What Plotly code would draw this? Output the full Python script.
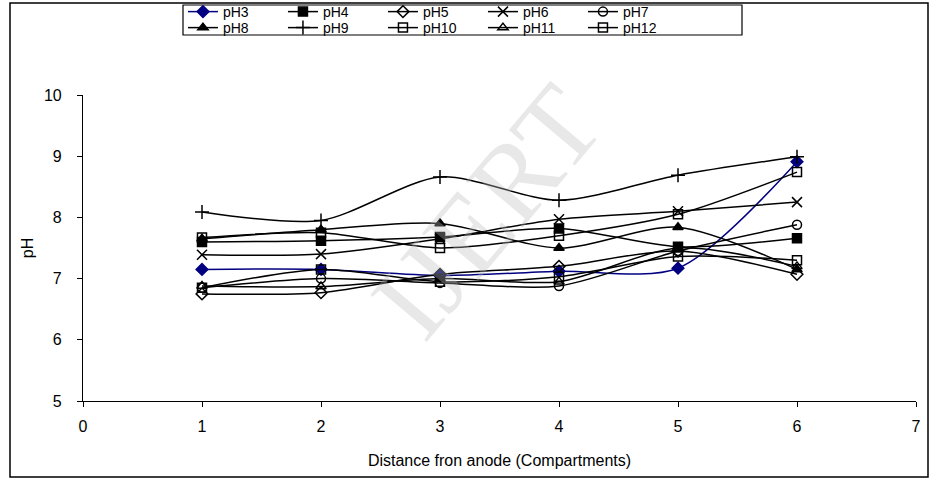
import plotly.graph_objects as go

x = [1, 2, 3, 4, 5, 6]
series_names = ["pH3", "pH4", "pH5", "pH6", "pH7", "pH8", "pH9", "pH10", "pH11", "pH12"]
pH3 = [7.15, 7.15, 7.05, 7.12, 7.17, 8.91]
pH4 = [7.60, 7.62, 7.68, 7.82, 7.52, 7.66]
pH5 = [6.75, 6.77, 7.07, 7.20, 7.45, 7.07]
pH6 = [7.39, 7.40, 7.65, 7.97, 8.10, 8.25]
pH7 = [6.85, 7.00, 6.93, 6.88, 7.45, 7.88]
pH8 = [7.65, 7.80, 7.90, 7.50, 7.84, 7.15]
pH9 = [8.09, 7.95, 8.66, 8.28, 8.69, 8.99]
pH10 = [7.67, 7.75, 7.50, 7.70, 8.05, 8.74]
pH11 = [6.88, 6.87, 7.00, 6.95, 7.50, 7.20]
pH12 = [6.85, 7.15, 6.95, 7.03, 7.36, 7.30]
values = [pH3, pH4, pH5, pH6, pH7, pH8, pH9, pH10, pH11, pH12]

x_ticks = [0, 1, 2, 3, 4, 5, 6, 7]
y_ticks = [5, 6, 7, 8, 9, 10]

symbols = ["diamond", "square", "diamond-open", "x-thin-open", "circle-open",
           "triangle-up", "cross-thin-open", "square-open", "triangle-up-open", "square-open"]
colors = ["#000080"] + ["#000000"] * 9

fig = go.Figure()
for i, (name, vals) in enumerate(zip(series_names, values)):
    sym = symbols[i]
    size = 9
    if sym in ("x-thin-open", "cross-thin-open"):
        size = 10
    fig.add_trace(go.Scatter(
        x=x, y=vals, name=name, mode="lines+markers",
        line=dict(color=colors[i], width=1.5, shape="spline", smoothing=0.8),
        marker=dict(symbol=sym, size=size, color=colors[i] if "open" not in sym else "#000000",
                    line=dict(color=colors[i], width=1.5)),
        legend="legend" if i < 5 else "legend2",
    ))

font_family = "Liberation Sans, Arial, sans-serif"

fig.update_layout(
    width=930, height=479,
    margin=dict(l=83, r=14, t=95, b=78, autoexpand=False),
    paper_bgcolor="white", plot_bgcolor="white",
    font=dict(family=font_family, size=16, color="black"),
    xaxis=dict(range=[0, 7], tickvals=x_ticks, showgrid=False, zeroline=False,
               showline=True, linecolor="black", linewidth=1.2,
               ticks="outside", ticklen=5, tickcolor="black", ticklabelstandoff=6,
               tickfont=dict(size=16),
               title=dict(text="Distance fron anode (Compartments)", standoff=20,
                          font=dict(size=16))),
    yaxis=dict(range=[5, 10], tickvals=y_ticks, showgrid=False, zeroline=False,
               showline=True, linecolor="black", linewidth=1.2,
               ticks="outside", ticklen=5, tickcolor="black", ticklabelstandoff=12,
               tickfont=dict(size=16),
               title=dict(text="pH", standoff=6, font=dict(size=16))),
    legend=dict(orientation="h", x=0.12, y=1.3235, xref="paper", yref="paper",
                xanchor="left", yanchor="top", entrywidth=55, entrywidthmode="pixels",
                font=dict(size=14), bgcolor="rgba(0,0,0,0)", tracegroupgap=0,
                itemwidth=30),
    legend2=dict(orientation="h", x=0.12, y=1.2712, xref="paper", yref="paper",
                 xanchor="left", yanchor="top", entrywidth=55, entrywidthmode="pixels",
                 font=dict(size=14), bgcolor="rgba(0,0,0,0)", itemwidth=30),
    showlegend=True,
)

# watermark
fig.add_annotation(text="IJERT", xref="paper", yref="paper", x=0.485, y=0.62,
                   showarrow=False, textangle=-50,
                   font=dict(family="Liberation Serif, serif", size=112, color="rgba(190,190,190,0.35)"))

# legend frame and outer chart frame
fig.add_shape(type="rect", xref="paper", yref="paper",
              x0=(183 - 83) / 833, x1=(742 - 83) / 833,
              y0=(401 - 35) / 306, y1=(401 - 5) / 306,
              line=dict(color="black", width=1.2), fillcolor="rgba(0,0,0,0)", layer="above")
fig.add_shape(type="rect", xref="paper", yref="paper",
              x0=(10 - 83) / 833, x1=(928 - 83) / 833,
              y0=(401 - 477) / 306, y1=(401 - 3) / 306,
              line=dict(color="black", width=1.5), fillcolor="rgba(0,0,0,0)", layer="above")

fig.write_html("out.html")
